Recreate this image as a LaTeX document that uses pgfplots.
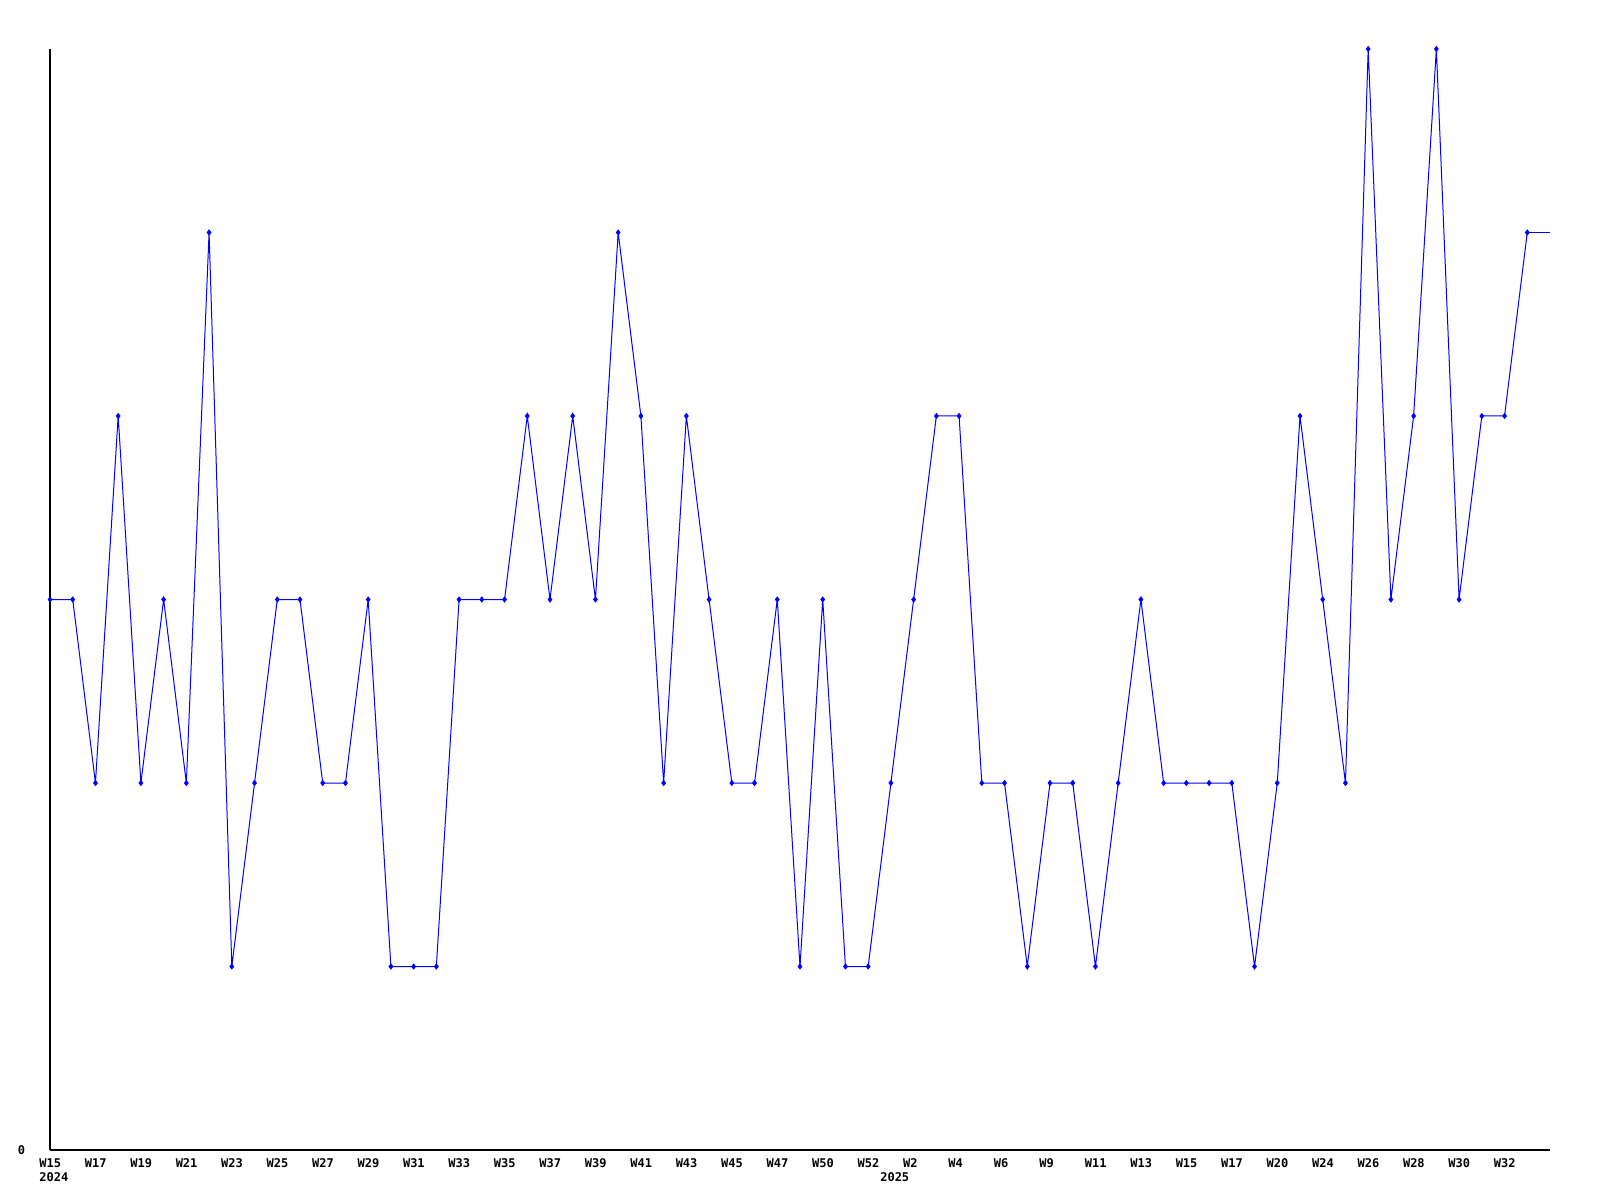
\documentclass[border=0pt]{standalone}
\usepackage{pgfplots}
\pgfplotsset{compat=1.18}
\usepackage{fontspec}
\setmainfont{DejaVu Sans Mono}
\definecolor{lineblue}{RGB}{0,0,255}
\begin{document}
\begin{tikzpicture}
\path[use as bounding box] (0,0) rectangle (800pt,600pt);
\begin{axis}[
  at={(25pt,25pt)}, anchor=south west,
  scale only axis, width=750pt, height=550.5pt,
  xmin=0, xmax=66, ymin=0, ymax=6,
  clip=false,
  axis x line=bottom, axis y line=left,
  axis line style={-, line width=0.6pt, black},
  major tick length=0pt,
  xtick={0,2,...,64},
  xticklabels={W15,W17,W19,W21,W23,W25,W27,W29,W31,W33,W35,W37,W39,W41,W43,W45,W47,W50,W52,W2,W4,W6,W9,W11,W13,W15,W17,W20,W24,W26,W28,W30,W32},
  ytick={0}, yticklabels={0},
  tick label style={font=\bfseries\fontsize{6}{7}\selectfont},
  xticklabel style={anchor=north west, inner sep=0pt, xshift=-5.5pt, yshift=-4pt},
  yticklabel style={anchor=east, inner sep=0pt, xshift=-12.25pt},
  extra x ticks={0,37},
  extra x tick labels={2024,2025},
  extra x tick style={xticklabel style={yshift=-7pt}},
]
\addplot[lineblue, line width=0.5pt, mark=diamond*, mark size=1.2pt] coordinates {
(0,3) (1,3) (2,2) (3,4) (4,2) (5,3) (6,2) (7,5) (8,1) (9,2)
(10,3) (11,3) (12,2) (13,2) (14,3) (15,1) (16,1) (17,1) (18,3) (19,3)
(20,3) (21,4) (22,3) (23,4) (24,3) (25,5) (26,4) (27,2) (28,4) (29,3)
(30,2) (31,2) (32,3) (33,1) (34,3) (35,1) (36,1) (37,2) (38,3) (39,4)
(40,4) (41,2) (42,2) (43,1) (44,2) (45,2) (46,1) (47,2) (48,3) (49,2)
(50,2) (51,2) (52,2) (53,1) (54,2) (55,4) (56,3) (57,2) (58,6) (59,3)
(60,4) (61,6) (62,3) (63,4) (64,4) (65,5)
};
\addplot[lineblue, line width=0.5pt, no marks] coordinates {(65,5) (66,5)};
\end{axis}
\end{tikzpicture}
\end{document}
